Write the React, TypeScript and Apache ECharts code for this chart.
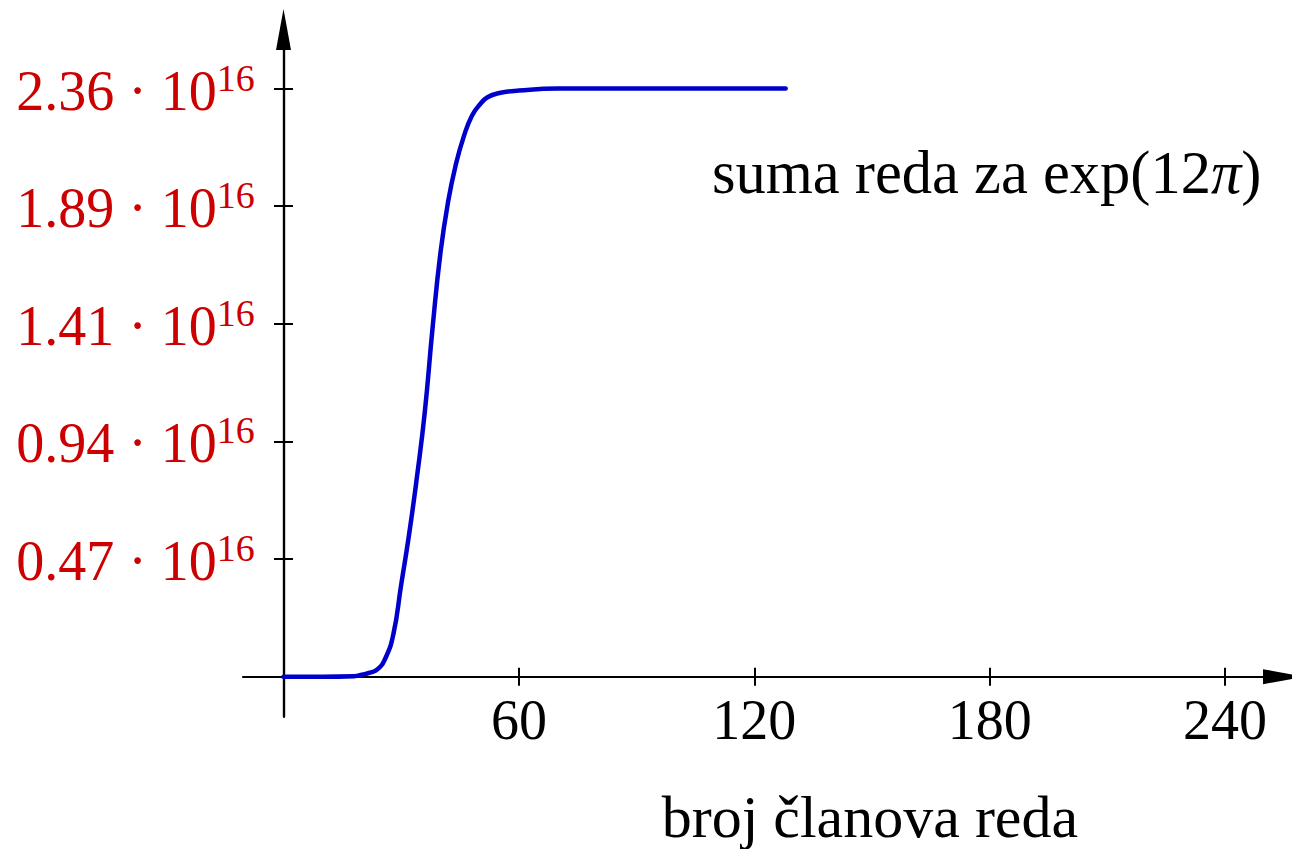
import React, { useEffect, useRef } from 'react';
import * as echarts from 'echarts';

// number of terms in the partial sum
const terms = [0, 10, 18, 20, 22, 24, 26, 28, 30, 32, 34, 36, 38, 40, 42, 44, 46, 48, 50, 52, 55, 60, 70, 128];
// partial sums, in units of 10^16
const sums = [0, 0, 0.002, 0.008, 0.016, 0.03, 0.075, 0.17, 0.37, 0.57, 0.8, 1.06, 1.4, 1.7, 1.91, 2.06, 2.17, 2.25, 2.295, 2.325, 2.342, 2.352, 2.36, 2.36];

const xTicks = [60, 120, 180, 240];
const yTicks = [0.472, 0.944, 1.416, 1.888, 2.36];
const yTickLabels = ['0.47', '0.94', '1.41', '1.89', '2.36'];

const FONT = '"Liberation Serif", "Times New Roman", serif';
const X_MIN = -10.25;
const X_MAX = 254.9;
const Y_MIN = -0.1605;
const Y_MAX = 2.597;

export default function App() {
  const ref = useRef<HTMLDivElement>(null);

  useEffect(() => {
    document.body.style.margin = '0';
    if (!ref.current) return;
    const chart = echarts.init(ref.current, undefined, { renderer: 'svg' });
    const axisColor = '#000';
    const tickStyle = { color: axisColor, width: 2 };

    const option: any = {
      animation: false,
      backgroundColor: '#fff',
      grid: {
        left: 243.3,
        top: 29.5,
        width: 1040.2,
        height: 687.2,
        containLabel: false,
        outerBoundsMode: 'none',
      },
      xAxis: [
        {
          type: 'value',
          min: X_MIN,
          max: X_MAX,
          position: 'bottom',
          axisLine: {
            show: true,
            onZero: true,
            onZeroAxisIndex: 0,
            symbol: ['none', 'triangle'],
            symbolSize: [15, 41],
            lineStyle: { color: axisColor, width: 2.2 },
          },
          axisTick: { show: true, length: 9, customValues: xTicks, lineStyle: tickStyle },
          axisLabel: {
            show: true,
            customValues: xTicks,
            margin: -25,
            color: '#000',
            fontFamily: FONT,
            fontSize: 56,
          },
          splitLine: { show: false },
          name: 'broj članova reda',
          nameLocation: 'middle',
          nameGap: 70,
          nameMoveOverlap: false,
          nameTextStyle: {
            color: '#000',
            fontFamily: FONT,
            fontSize: 60,
            padding: [0, 0, 0, 213],
          },
        },
        {
          type: 'value',
          min: X_MIN,
          max: X_MAX,
          position: 'bottom',
          axisLine: { show: true, onZero: true, onZeroAxisIndex: 0, symbol: ['none', 'none'], lineStyle: { color: axisColor, width: 2.2 } },
          axisTick: { show: true, inside: true, length: 9, customValues: xTicks, lineStyle: tickStyle },
          axisLabel: { show: false },
          splitLine: { show: false },
        },
      ],
      yAxis: [
        {
          type: 'value',
          min: Y_MIN,
          max: Y_MAX,
          position: 'left',
          axisLine: {
            show: true,
            onZero: true,
            onZeroAxisIndex: 0,
            symbol: ['none', 'triangle'],
            symbolSize: [15, 41],
            lineStyle: { color: axisColor, width: 2.2 },
          },
          axisTick: { show: true, length: 9.5, customValues: yTicks, lineStyle: tickStyle },
          axisLabel: {
            show: true,
            customValues: yTicks,
            margin: -11.5,
            formatter: (v: number) => {
              let best = 0;
              for (let i = 0; i < yTicks.length; i++) {
                if (Math.abs(yTicks[i] - v) < Math.abs(yTicks[best] - v)) best = i;
              }
              return `{m|${yTickLabels[best]} · 10}{s|16}`;
            },
            rich: {
              m: {
                color: '#cc0000',
                fontFamily: FONT,
                fontSize: 56,
                lineHeight: 60,
                verticalAlign: 'bottom',
              },
              s: {
                color: '#cc0000',
                fontFamily: FONT,
                fontSize: 38,
                lineHeight: 38,
                verticalAlign: 'top',
              },
            },
          },
          splitLine: { show: false },
        },
        {
          type: 'value',
          min: Y_MIN,
          max: Y_MAX,
          position: 'left',
          axisLine: { show: true, onZero: true, onZeroAxisIndex: 0, symbol: ['none', 'none'], lineStyle: { color: axisColor, width: 2.2 } },
          axisTick: { show: true, inside: true, length: 9.5, customValues: yTicks, lineStyle: tickStyle },
          axisLabel: { show: false },
          splitLine: { show: false },
        },
      ],
      series: [
        {
          type: 'line',
          xAxisIndex: 0,
          yAxisIndex: 0,
          data: terms.map((t, i) => [t, sums[i]]),
          showSymbol: false,
          smooth: true,
          lineStyle: { color: '#0000cc', width: 4.5, cap: 'round', join: 'round' },
          z: 1,
        },
      ],
      graphic: [
        {
          type: 'text',
          x: 712,
          y: 142,
          style: {
            text: '{r|suma reda za exp(12}{i|π}{r|)}',
            rich: {
              r: { fontFamily: FONT, fontSize: 60.5, lineHeight: 60, fill: '#000', color: '#000' },
              i: { fontFamily: FONT, fontSize: 60.5, lineHeight: 60, fontStyle: 'italic', fill: '#000', color: '#000' },
            },
            fill: '#000',
            align: 'left',
            verticalAlign: 'top',
          },
        },
      ],
    };

    chart.setOption(option);
    return () => chart.dispose();
  }, []);

  return <div ref={ref} style={{ width: 1292, height: 849 }} />;
}
